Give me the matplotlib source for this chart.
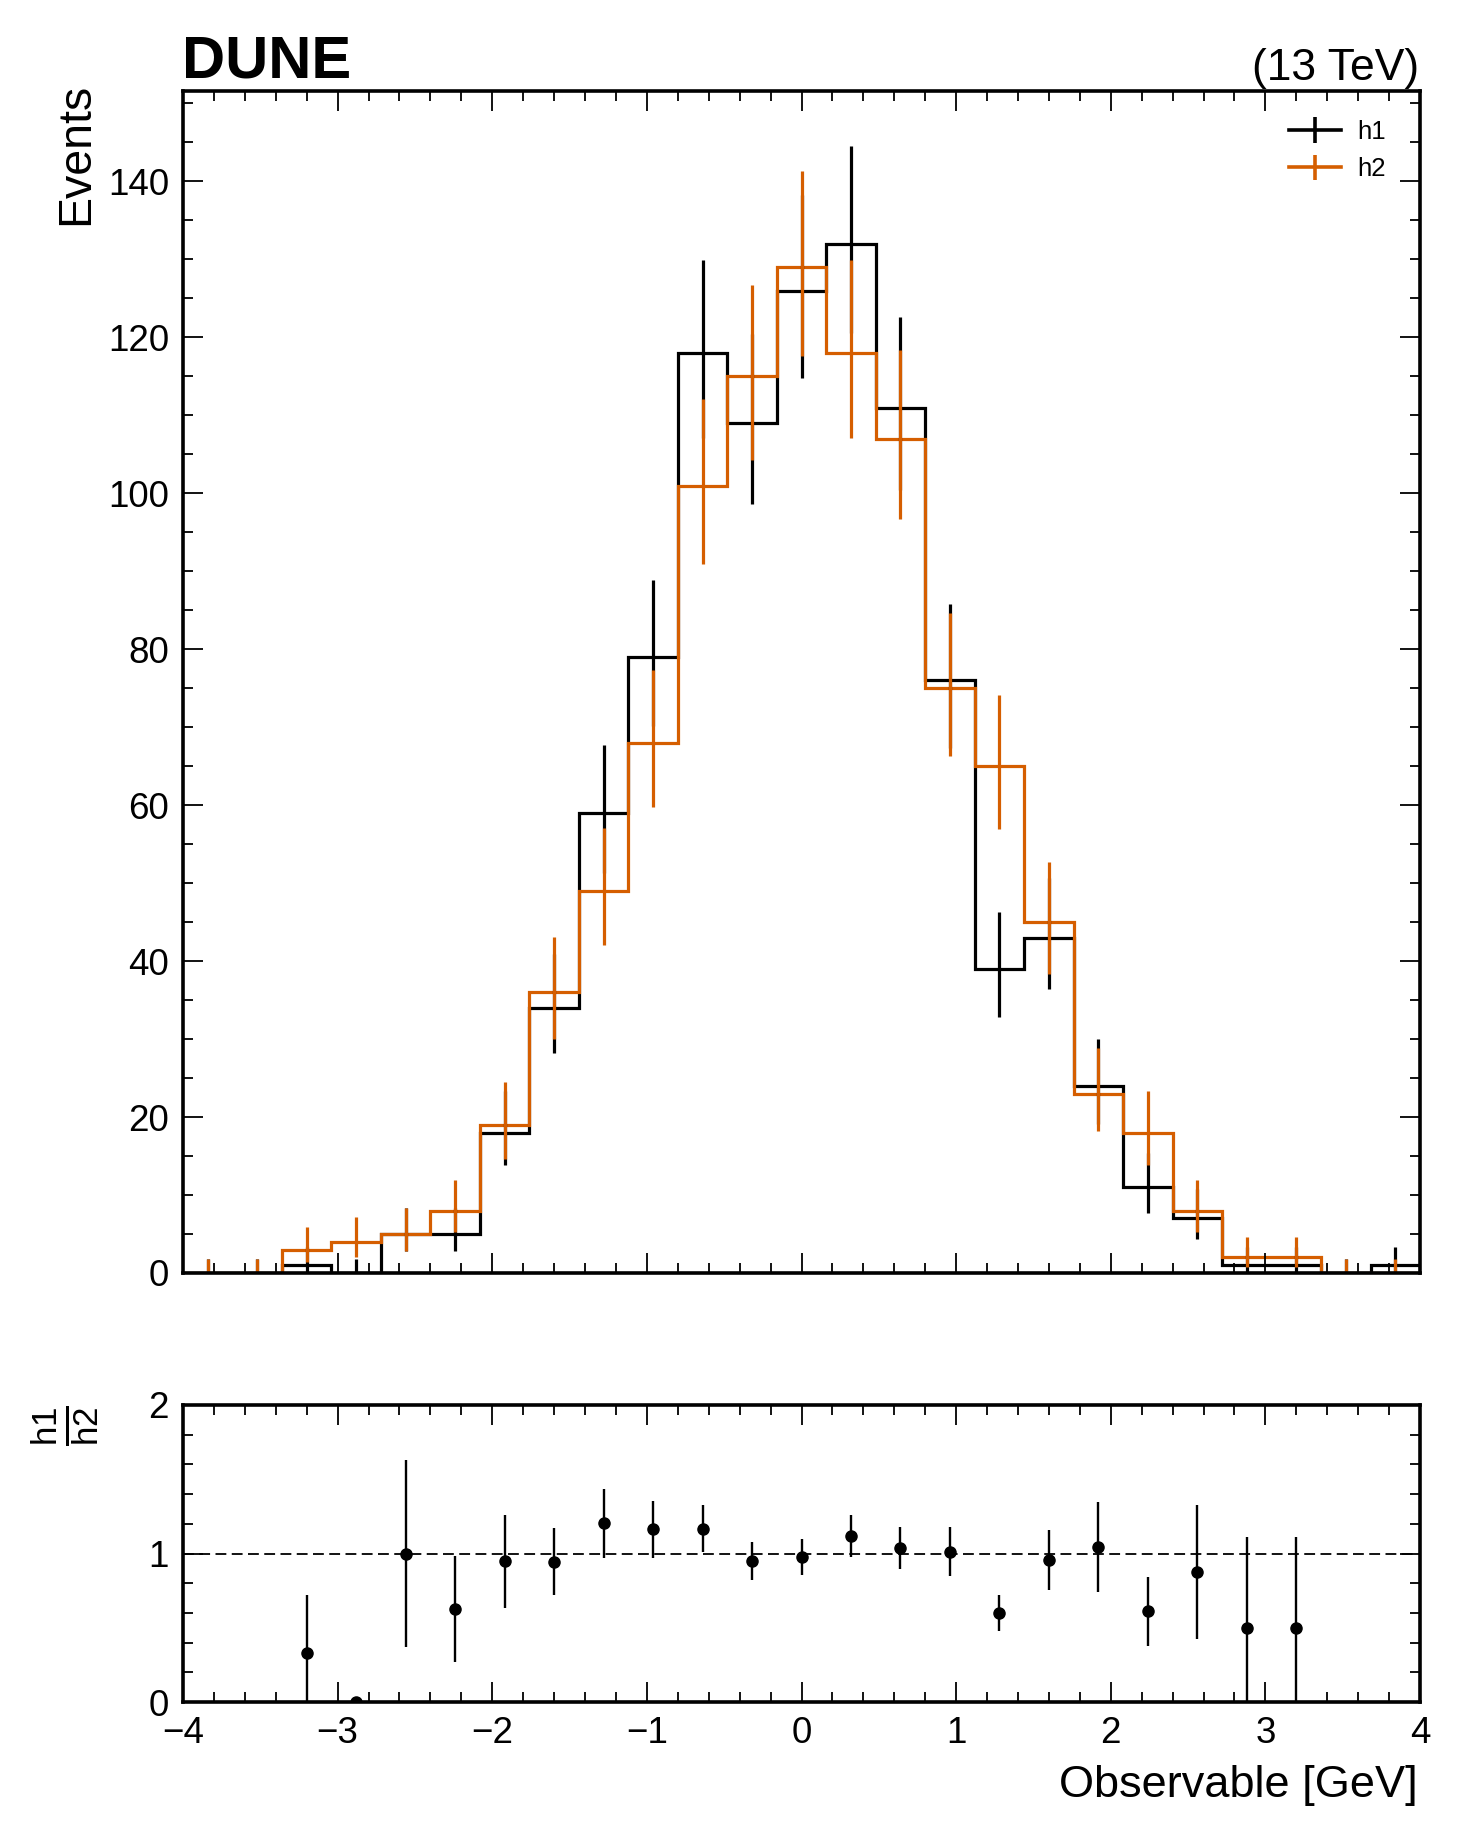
import math
import numpy as np
import matplotlib
matplotlib.use("Agg")
import matplotlib.pyplot as plt
from matplotlib.ticker import MultipleLocator

plt.rcParams['font.family'] = ['Liberation Sans', 'DejaVu Sans']
plt.rcParams['mathtext.fontset'] = 'custom'
plt.rcParams['mathtext.rm'] = 'Liberation Sans'
plt.rcParams['mathtext.it'] = 'Liberation Sans'
plt.rcParams['mathtext.bf'] = 'Liberation Sans:bold'
plt.rcParams['mathtext.default'] = 'regular'

# ---------------- data ----------------
bin_edges = np.linspace(-4.0, 4.0, 26)
h1_counts = [0, 0, 1, 0, 5, 5, 18, 34, 59, 79, 118, 109, 126, 132, 111,
             76, 39, 43, 24, 11, 7, 1, 1, 0, 1]
h2_counts = [0, 0, 3, 4, 5, 8, 19, 36, 49, 68, 101, 115, 129, 118, 107,
             75, 65, 45, 23, 18, 8, 2, 2, 0, 0]
series_labels = ['h1', 'h2']
series_colors = ['#000000', '#D55E00']
x_label = 'Observable [GeV]'
y_label = 'Events'
exp_label = 'DUNE'
lumi_label = '(13 TeV)'

# ---------------- helpers ----------------
def pois_cdf(k, mu):
    if k < 0:
        return 0.0
    if mu <= 0:
        return 1.0
    s = 0.0
    lm = math.log(mu)
    for i in range(k + 1):
        s += math.exp(-mu + i * lm - math.lgamma(i + 1))
    return s


def solve_dec(f, target, lo, hi):
    for _ in range(200):
        mid = 0.5 * (lo + hi)
        if f(mid) > target:
            lo = mid
        else:
            hi = mid
    return 0.5 * (lo + hi)


ALPHA_HALF = 0.5 * (1 - 0.6826894921)


def garwood(n):
    hb = n + 10 * math.sqrt(n + 1) + 10
    up = solve_dec(lambda m: pois_cdf(n, m), ALPHA_HALF, 0.0, hb)
    lo = 0.0 if n == 0 else solve_dec(lambda m: pois_cdf(n - 1, m), 1 - ALPHA_HALF, 0.0, hb)
    return n - lo, up - n


W, H = 1461, 1836
fig = plt.figure(figsize=(W / 100, H / 100), dpi=100)
left = 183 / W
width = (1420 - 183) / W
ax = fig.add_axes([left, 1 - 1273 / H, width, 1182 / H])
rax = fig.add_axes([left, 1 - 1702 / H, width, 297 / H], sharex=ax)

edges = np.asarray(bin_edges)
centers = 0.5 * (edges[1:] + edges[:-1])

LW = 2.3
handles = []
for counts, color, lab in zip([h1_counts, h2_counts], series_colors, series_labels):
    vals = np.asarray(counts, dtype=float)
    errs = np.array([garwood(int(v)) for v in counts]).T
    ax.stairs(vals, edges, color=color, lw=LW, baseline=0)
    ax.errorbar(centers, vals, yerr=errs, fmt='none', ecolor=color, elinewidth=LW)
    hdl = ax.errorbar([np.nan], [np.nan], yerr=[1.0], fmt='-', color=color, lw=2.6,
                      elinewidth=2.6, label=lab)
    handles.append(hdl)

ax.legend(handles=handles, labels=series_labels, loc='upper right',
          bbox_to_anchor=(1386 / W, 1 - 120 / H), bbox_transform=fig.transFigure,
          frameon=False, fontsize=18.5, handlelength=2.05, handletextpad=0.62,
          labelspacing=0.52, borderpad=0, borderaxespad=0)

# ratio
h1a = np.asarray(h1_counts, dtype=float)
h2a = np.asarray(h2_counts, dtype=float)
with np.errstate(divide='ignore', invalid='ignore'):
    ratio = np.where(h2a > 0, h1a / h2a, np.nan)
    rerr = np.where((h1a > 0) & (h2a > 0), ratio * np.sqrt(1 / h1a + 1 / h2a), 0.0)
rax.axhline(1.0, color='black', lw=1.3, ls=(0, (6, 3)))
rax.errorbar(centers, ratio, yerr=rerr, fmt='o', color='black', ms=8,
             elinewidth=1.7, capsize=0)

ax.set_xlim(-4, 4)
ax.set_ylim(0, 151.6)
rax.set_ylim(0, 2)

for a in (ax, rax):
    a.tick_params(which='both', direction='in', top=True, right=True,
                  width=1.3, labelsize=26.5, pad=10)
    a.tick_params(which='major', length=14.4)
    a.tick_params(which='minor', length=7.2)
    a.xaxis.set_major_locator(MultipleLocator(1))
    a.xaxis.set_minor_locator(MultipleLocator(0.2))
    for s in a.spines.values():
        s.set_linewidth(2.6)
ax.yaxis.set_major_locator(MultipleLocator(20))
ax.yaxis.set_minor_locator(MultipleLocator(5))
rax.yaxis.set_major_locator(MultipleLocator(1))
rax.yaxis.set_minor_locator(MultipleLocator(0.2))
ax.tick_params(labelbottom=False)

fig.text(182 / W, 1 - 77 / H, exp_label, fontsize=43, fontweight='bold',
         ha='left', va='baseline')
fig.text(1419 / W, 1 - 80 / H, lumi_label, fontsize=32, ha='right', va='baseline')
fig.text(88 / W, 1 - 83 / H, y_label, fontsize=33.5, rotation=90,
         rotation_mode='anchor', ha='right', va='baseline')
fig.text(1418 / W, 1 - 1797 / H, x_label, fontsize=32.5, ha='right', va='baseline')
fig.text(66 / W, 1 - 1405 / H, r'$\frac{h1}{h2}$', fontsize=36, rotation=90,
         rotation_mode='anchor', ha='right', va='center')

fig.savefig('out.png', dpi=100)
